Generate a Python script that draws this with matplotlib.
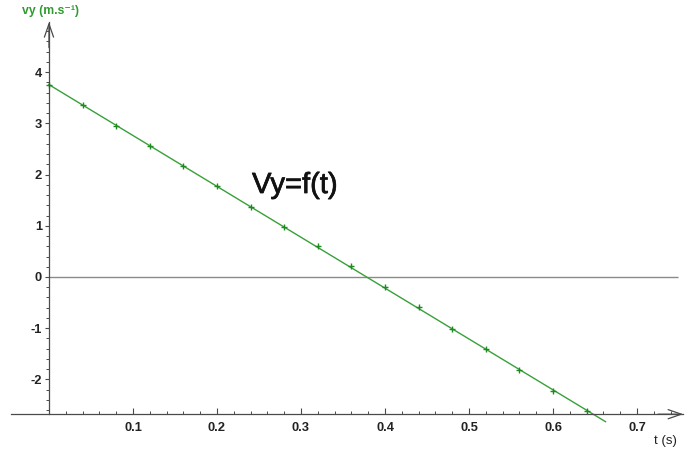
import numpy as np
import matplotlib
matplotlib.use("Agg")
import matplotlib.pyplot as plt
import matplotlib.patheffects as pe

# measured points: time (s) and vertical velocity (m/s)
t_points = [0.00, 0.04, 0.08, 0.12, 0.16, 0.20, 0.24, 0.28, 0.32,
            0.36, 0.40, 0.44, 0.48, 0.52, 0.56, 0.60, 0.64]
vy_points = [3.75, 3.35, 2.94, 2.56, 2.17, 1.77, 1.37, 0.97, 0.60,
             0.21, -0.19, -0.59, -1.02, -1.41, -1.82, -2.23, -2.62]

x_ticks = [0.1, 0.2, 0.3, 0.4, 0.5, 0.6, 0.7]
y_ticks = [-2, -1, 0, 1, 2, 3, 4]

T_FIT_END = 0.6625      # regression line is drawn a bit past the last point
X_AXIS_AT = -2.68       # where the time axis crosses the vy axis
X_AXIS_SPAN = (-0.045, 0.755)
Y_AXIS_TOP = 4.98

FONT = ["Liberation Sans", "DejaVu Sans"]
GREEN = "#38a038"
AXIS_GREY = "#4a4a4a"


def draw_arrow(ax, tip, tail):
    ax.annotate("", xy=tip, xytext=tail,
                arrowprops=dict(arrowstyle="->,head_length=9.5,head_width=3.3",
                                mutation_scale=1, color=AXIS_GREY, lw=0.9,
                                shrinkA=0, shrinkB=0))


fig = plt.figure(figsize=(6.96, 4.55), dpi=100)
ax = fig.add_axes([0, 0, 1, 1])
ax.set_xlim(-0.0583, 0.7702)
ax.set_ylim(-3.477, 5.41)

for side in ("top", "right"):
    ax.spines[side].set_visible(False)
ax.spines["left"].set_position(("data", 0))
ax.spines["left"].set_bounds(X_AXIS_AT, Y_AXIS_TOP)
ax.spines["bottom"].set_position(("data", X_AXIS_AT))
ax.spines["bottom"].set_bounds(*X_AXIS_SPAN)
for side in ("left", "bottom"):
    ax.spines[side].set_color(AXIS_GREY)
    ax.spines[side].set_linewidth(0.9)

# axis arrows
draw_arrow(ax, (X_AXIS_SPAN[1], X_AXIS_AT), (X_AXIS_SPAN[1] - 0.03, X_AXIS_AT))
draw_arrow(ax, (0, Y_AXIS_TOP), (0, Y_AXIS_TOP - 0.5))

ax.set_xticks(x_ticks)
ax.set_xticklabels(["%.1f" % v for v in x_ticks])
ax.set_xticks(np.arange(0.02, 0.75, 0.02), minor=True)
ax.set_yticks(y_ticks)
ax.set_yticklabels([str(v) for v in y_ticks])
ax.set_yticks(np.arange(-2.6, 4.81, 0.2), minor=True)

ax.tick_params(axis="x", which="major", direction="in", length=4, width=0.8,
               pad=5.5, colors=AXIS_GREY, labelcolor="#222222")
ax.tick_params(axis="x", which="minor", direction="in", length=2.5, width=0.7,
               colors=AXIS_GREY)
ax.tick_params(axis="y", which="major", direction="out", length=3, width=0.8,
               pad=2, colors=AXIS_GREY, labelcolor="#222222")
ax.tick_params(axis="y", which="minor", direction="out", length=2.5, width=0.7,
               colors=AXIS_GREY)
for lab in ax.get_xticklabels() + ax.get_yticklabels():
    lab.set_family(FONT)
    lab.set_fontsize(9.3)
    lab.set_fontweight("bold")

# zero line
ax.hlines(0, 0, 0.749, color="#8a8a8a", lw=1.0)

# linear fit through the measurements
slope, intercept = np.polyfit(t_points, vy_points, 1)
t_fit = np.array([0, T_FIT_END])
ax.plot(t_fit, intercept + slope * t_fit, color=GREEN, lw=1.0, clip_on=False)
ax.plot(t_points, vy_points, linestyle="none", marker="+", markersize=5,
        markeredgewidth=1.0, color="#1f8a1f")

ax.text(0.2417, 1.64, "Vy=f(t)", family=FONT, fontsize=21,
        color="#111111", va="baseline", ha="left",
        path_effects=[pe.withStroke(linewidth=0.5, foreground="#111111")])

fig.text(22 / 696, 1 - 11 / 455, "vy (m.s⁻¹)", family=FONT, fontsize=8.8,
         fontweight="bold", color="#2f9a2f", va="center", ha="left")
fig.text(677 / 696, 1 - 441 / 455, "t (s)", family=FONT, fontsize=9.5,
         color="#222222", va="center", ha="right")

fig.savefig("out.png", dpi=100)
